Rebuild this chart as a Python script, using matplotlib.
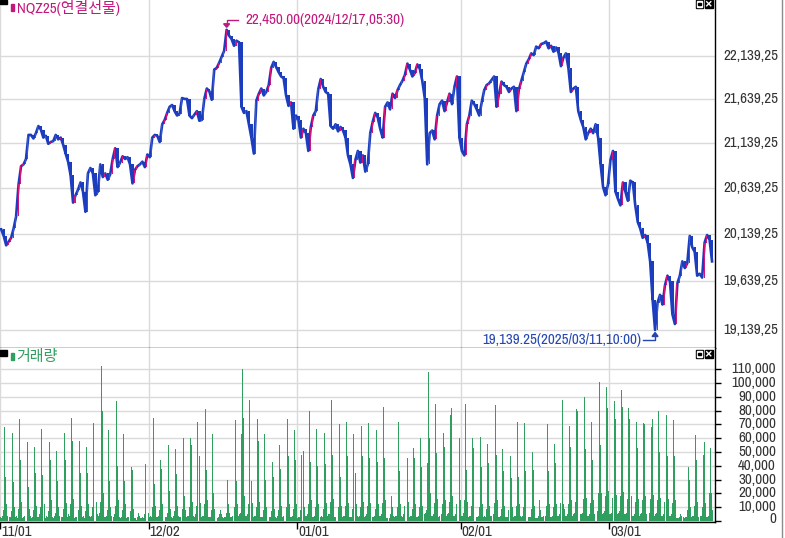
import numpy as np
import matplotlib
matplotlib.use('Agg')
import matplotlib.pyplot as plt
from matplotlib import font_manager
from matplotlib.patches import Rectangle, Polygon
from matplotlib.ticker import NullLocator

# ---- data ----
title = 'NQZ25(연결선물)'
vol_title = '거래량'
month_labels = ['11/01', '12/02', '01/01', '02/01', '03/01']
month_days = [0, 20, 40, 62, 82]
price_ticks = [19139.25, 19639.25, 20139.25, 20639.25, 21139.25, 21639.25, 22139.25]
vol_ticks = [0, 10000, 20000, 30000, 40000, 50000, 60000, 70000, 80000, 90000, 100000, 110000]
high_label = '22,450.00(2024/12/17,05:30)'
low_label = '19,139.25(2025/03/11,10:00)'

# closes, 3 per trading day
closes = [
    [20190, 20120, 20020], [20060, 20100, 20200], [20330, 20680, 20880], [20900, 20960, 21230],
    [21230, 21190, 21250], [21330, 21290, 21200], [21220, 21130, 21150], [21160, 21230, 21180],
    [21200, 21120, 21020], [20930, 20780, 20480], [20560, 20620, 20700], [20600, 20380, 20800],
    [20860, 20800, 20560], [20600, 20900, 20760], [20800, 20730, 20790], [20960, 21080, 20870],
    [20920, 20990, 20960], [20980, 20900, 20690], [20840, 20880, 20900], [20930, 20870, 21010],
    [20980, 21200, 21230], [21220, 21150, 21350], [21400, 21480, 21550], [21570, 21500, 21450],
    [21470, 21650, 21640], [21640, 21450, 21420], [21460, 21500, 21390], [21400, 21640, 21760],
    [21730, 21630, 21980], [22000, 22060, 22130], [22200, 22450, 22380], [22340, 22260, 22320],
    [22300, 21550, 21480], [21500, 21350, 21200], [21020, 21620, 21700], [21760, 21680, 21720],
    [21800, 22000, 22070], [22010, 21950, 21900], [21880, 21680, 21560], [21600, 21300, 21450],
    [21400, 21200, 21300], [21250, 21050, 21320], [21450, 21500, 21750], [21870, 21780, 21720],
    [21700, 21330, 21300], [21350, 21270, 21320], [21280, 21200, 21000], [20900, 20750, 20950],
    [21050, 20920, 21000], [20820, 20900, 21250], [21380, 21480, 21430], [21300, 21200, 21550],
    [21600, 21520, 21700], [21650, 21740, 21800], [21850, 21920, 22050], [21980, 21900, 21940],
    [22040, 21990, 21850], [21650, 20900, 21250], [21280, 21180, 21450], [21580, 21620, 21500],
    [21600, 21700, 21580], [21780, 21900, 21200], [21050, 21000, 21350], [21450, 21620, 21580],
    [21520, 21450, 21600], [21740, 21800, 21820], [21860, 21900, 21550], [21700, 21840, 21800],
    [21780, 21720, 21760], [21780, 21500, 21750], [21850, 21950, 22050], [22100, 22170, 22150],
    [22250, 22230, 22280], [22290, 22310, 22230], [22260, 22190, 22240], [22180, 22020, 22120],
    [22170, 22000, 21720], [21760, 21780, 21500], [21400, 21320, 21180], [21250, 21300, 21250],
    [21350, 21200, 20900], [20650, 20560, 20680], [20950, 21050, 20600], [20520, 20450, 20700],
    [20600, 20500, 20720], [20700, 20450, 20270], [20200, 20100, 20130], [20050, 19850, 19450],
    [19139.25, 19420, 19500], [19400, 19600, 19700], [19640, 19300, 19200], [19620, 19700, 19850],
    [19780, 19830, 20120], [20000, 19950, 19700], [19720, 19680, 20050], [20130, 20080, 19850],
]

# volume in thousands, 7 slots per trading day
volumes = [
    [3, 2, 4, 8, 68, 32, 12], [4, 3, 3, 7, 64, 28, 10], [3, 4, 2, 9, 74, 44, 14], [2, 3, 4, 6, 57, 25, 9],
    [4, 2, 3, 8, 54, 35, 11], [3, 3, 5, 10, 67, 33, 12], [2, 4, 3, 7, 57, 44, 15], [3, 2, 4, 6, 51, 29, 10],
    [4, 3, 3, 9, 64, 44, 13], [3, 5, 4, 12, 75, 58, 16], [2, 3, 3, 8, 58, 35, 11], [3, 4, 2, 7, 54, 35, 12],
    [4, 3, 4, 10, 71, 47, 14], [5, 4, 6, 14, 112, 80, 20], [3, 3, 4, 8, 66, 29, 10], [4, 3, 5, 11, 87, 40, 15],
    [3, 2, 3, 8, 63, 29, 12], [2, 3, 3, 7, 39, 37, 9], [2, 2, 1, 3, 6, 4, 2], [2, 3, 2, 5, 41, 12, 6],
    [3, 4, 3, 10, 75, 27, 11], [3, 3, 4, 8, 44, 38, 12], [2, 3, 3, 6, 55, 22, 9], [3, 2, 4, 7, 52, 34, 11],
    [4, 3, 3, 9, 60, 18, 8], [3, 4, 4, 10, 60, 55, 14], [4, 3, 5, 11, 72, 47, 13], [3, 4, 4, 12, 81, 37, 15],
    [3, 3, 3, 8, 63, 20, 9], [2, 2, 3, 5, 8, 5, 3], [2, 3, 3, 6, 30, 12, 6], [3, 3, 4, 10, 73, 29, 12],
    [4, 5, 6, 63, 110, 75, 18], [4, 4, 5, 12, 88, 29, 13], [3, 4, 4, 10, 74, 58, 14], [3, 3, 3, 8, 63, 30, 10],
    [2, 3, 3, 7, 43, 32, 9], [3, 2, 4, 8, 55, 38, 11], [3, 4, 3, 10, 74, 47, 12], [3, 3, 4, 9, 66, 44, 12],
    [2, 3, 3, 8, 48, 51, 10], [4, 4, 5, 12, 80, 43, 15], [3, 3, 4, 10, 67, 40, 12], [3, 4, 3, 9, 64, 41, 13],
    [4, 5, 5, 14, 88, 48, 16], [3, 3, 4, 10, 70, 32, 11], [3, 4, 4, 11, 72, 47, 13], [3, 3, 3, 9, 63, 35, 12],
    [4, 3, 4, 10, 69, 47, 14], [3, 4, 5, 11, 71, 46, 13], [3, 3, 4, 9, 66, 43, 12], [4, 4, 5, 13, 83, 46, 15],
    [2, 2, 2, 5, 18, 10, 4], [3, 4, 4, 10, 72, 36, 12], [4, 3, 5, 11, 75, 46, 14], [3, 4, 4, 9, 53, 46, 12],
    [3, 3, 4, 10, 60, 39, 11], [5, 6, 8, 42, 108, 60, 20], [4, 4, 5, 13, 85, 49, 16], [3, 4, 5, 12, 64, 54, 15],
    [4, 5, 6, 14, 77, 82, 18], [4, 4, 5, 12, 60, 60, 15], [4, 4, 6, 15, 85, 37, 14], [3, 4, 4, 11, 60, 53, 13],
    [3, 3, 4, 10, 61, 39, 12], [3, 4, 3, 9, 56, 42, 11], [4, 4, 5, 13, 84, 48, 15], [3, 3, 4, 9, 52, 36, 11],
    [3, 3, 3, 8, 47, 31, 10], [3, 4, 4, 11, 72, 32, 12], [4, 3, 4, 10, 71, 36, 12], [3, 3, 3, 9, 50, 37, 11],
    [2, 2, 2, 4, 15, 8, 3], [3, 4, 4, 11, 70, 36, 12], [3, 3, 4, 10, 56, 42, 12], [4, 4, 5, 13, 88, 12, 9],
    [4, 4, 5, 12, 69, 54, 15], [4, 5, 6, 14, 81, 80, 18], [5, 5, 6, 16, 90, 52, 17], [4, 4, 5, 13, 72, 44, 15],
    [5, 6, 7, 20, 101, 55, 20], [5, 6, 7, 18, 97, 82, 22], [5, 5, 6, 17, 87, 74, 19], [5, 6, 7, 18, 95, 83, 21],
    [5, 5, 6, 16, 82, 74, 18], [4, 4, 5, 14, 72, 53, 16], [4, 5, 6, 15, 71, 70, 18], [5, 5, 6, 16, 68, 74, 19],
    [4, 5, 6, 15, 80, 50, 17], [4, 4, 5, 14, 77, 47, 16], [4, 4, 5, 13, 73, 47, 15], [2, 2, 2, 3, 5, 4, 3],
    [2, 3, 3, 8, 39, 30, 10], [3, 4, 4, 11, 62, 44, 14], [3, 4, 4, 10, 48, 57, 13], [3, 3, 4, 20, 53, 20, 8],
]

# ---- style ----
UP = '#D2157E'
DOWN = '#1C3EBE'
GREEN = '#2F9E5F'
MAG_TXT = '#C2187D'
BLUE_TXT = '#2346B2'
GRID = '#dadada'
LBL = '#333333'

names = {f.name for f in font_manager.fontManager.ttflist}
base, fs = 'Liberation Sans', 9
for nm, size in [('Liberation Sans Narrow', 10), ('Archivo Narrow', 10.8), ('Barlow Semi Condensed', 10)]:
    if nm in names:
        base, fs = nm, size
        break
plt.rcParams['font.family'] = [base, 'Noto Sans CJK KR', 'DejaVu Sans']

W, H = 785, 538
DAY_PX = 7.43
fig = plt.figure(figsize=(W / 100, H / 100), dpi=100)
ax_p = fig.add_axes([0, 1 - 347.5 / H, 715 / W, 347.5 / H])
ax_v = fig.add_axes([0, 1 - 522 / H, 715 / W, (522 - 348) / H])

n_days = len(closes)
c = np.array(closes, float).ravel()
x_p = np.repeat(np.arange(n_days), 3) + np.tile((np.arange(3) + 0.5) / 3, n_days)
o = np.r_[c[0], c[:-1]]
lo = np.minimum(o, c)
hi = np.maximum(np.maximum(o, c), lo * 1.0007)
up = c > o

ax_p.set_yscale('log')
ax_p.plot(x_p, c, color=DOWN, lw=1.9, zorder=2)
ax_p.bar(x_p[~up], hi[~up] - lo[~up], bottom=lo[~up], width=0.32, color=DOWN, linewidth=0,
         antialiased=False, zorder=2.5)
ax_p.bar(x_p[up] - 0.07, hi[up] - lo[up], bottom=lo[up], width=0.14, color=UP, linewidth=0,
         antialiased=False, zorder=3)
ax_p.set_ylim(18962, 22808)
ax_p.set_xlim(0, 715 / DAY_PX)
ax_p.set_yticks(price_ticks)
ax_p.yaxis.set_minor_locator(NullLocator())
ax_p.set_xticks(month_days)
ax_p.tick_params(axis='both', length=0, labelleft=False, labelbottom=False)
ax_p.grid(True, color=GRID, lw=1)
ax_p.set_axisbelow(True)
for s in ['top', 'left']:
    ax_p.spines[s].set_visible(False)
for s in ['right', 'bottom']:
    ax_p.spines[s].set_color('black')
    ax_p.spines[s].set_linewidth(1)
for v in price_ticks:
    ax_p.text(778 / 715, v, f'{v:,.2f}'.replace('.', ','), transform=ax_p.get_yaxis_transform(),
              ha='right', va='center', fontsize=fs, color=LBL)

vol = np.array(volumes, float).ravel() * 1000
x_v = np.repeat(np.arange(n_days), 7) + np.tile((np.arange(7) + 0.5) / 7, n_days)
ax_v.bar(x_v, vol, width=0.92 / 7, color=GREEN, linewidth=0, antialiased=False)
ax_v.set_ylim(-700, 125400)
ax_v.set_xlim(0, 715 / DAY_PX)
ax_v.yaxis.tick_right()
ax_v.set_yticks(vol_ticks)
ax_v.tick_params(axis='y', length=4, width=1, color='black', labelright=False, direction='out')
ax_v.set_xticks(month_days)
ax_v.tick_params(axis='x', length=5, width=1, color='black', labelbottom=False, direction='out')
ax_v.grid(True, color=GRID, lw=1)
ax_v.set_axisbelow(True)
for s in ['top', 'left']:
    ax_v.spines[s].set_visible(False)
for s in ['right', 'bottom']:
    ax_v.spines[s].set_color('black')
    ax_v.spines[s].set_linewidth(1)
for v in vol_ticks:
    yy = v if v else 1300
    ax_v.text(776 / 715, yy, f'{v:,}', transform=ax_v.get_yaxis_transform(),
              ha='right', va='center', fontsize=fs, color=LBL)

# ---- overlay: labels, icons, annotations ----
ov = fig.add_axes([0, 0, 1, 1], zorder=10)
ov.set_xlim(0, W)
ov.set_ylim(H, 0)
ov.axis('off')
ov.patch.set_alpha(0)

ov.plot([782, 782], [0, H], color='#8c8c8c', lw=1)

ov.add_patch(Rectangle((0, 0), 7, 3.5, color='black'))
ov.add_patch(Rectangle((11, 4), 2.5, 7, color=MAG_TXT))
ov.text(16.5, 7.5, title, va='center', ha='left', fontsize=fs, color=MAG_TXT)
ov.add_patch(Rectangle((0, 350), 7, 6, color='black'))
ov.add_patch(Rectangle((11, 353), 2.5, 7, color=GREEN))
ov.text(16.5, 357, vol_title, va='center', ha='left', fontsize=fs, color=GREEN)

for y0 in [0, 350]:
    ov.add_patch(Rectangle((695.5, y0), 7.5, 7.5, color='black'))
    ov.add_patch(Rectangle((696.5, y0 + 1), 5.5, 5.5, color='white'))
    ov.add_patch(Rectangle((697.5, y0 + 2.5), 3.5, 2.5, color='black'))
    ov.add_patch(Rectangle((705, y0), 7.5, 7.5, color='black'))
    ov.plot([706.7, 710.8], [y0 + 1.7, y0 + 5.8], color='white', lw=1)
    ov.plot([706.7, 710.8], [y0 + 5.8, y0 + 1.7], color='white', lw=1)

# month labels under the volume panel
for d, lab in zip(month_days, month_labels):
    xd, _ = ax_v.transData.transform((d, 0))
    ov.text(xd + 1, 531, lab, ha='left', va='center', fontsize=fs, color=LBL)


def to_px(ax, x, y):
    dx, dy = ax.transData.transform((x, y))
    return dx, H - dy


i_hi = int(np.argmax(c))
px, py = to_px(ax_p, x_p[i_hi], c[i_hi])
ov.plot([px + 11, px, px], [py - 10, py - 10, py - 4], color=MAG_TXT, lw=1)
ov.add_patch(Polygon([[px - 3, py - 6], [px + 3, py - 6], [px, py - 2.5]], color=MAG_TXT))
ov.text(px + 19, py - 10, high_label, ha='left', va='center', fontsize=fs, color=MAG_TXT)

i_lo = int(np.argmin(c))
px, py = to_px(ax_p, x_p[i_lo], c[i_lo])
ov.plot([px - 12, px, px], [py + 10.5, py + 10.5, py + 4], color=BLUE_TXT, lw=1)
ov.add_patch(Polygon([[px - 3, py + 6.5], [px + 3, py + 6.5], [px, py + 2.5]], color=BLUE_TXT))
ov.text(px - 14, py + 10.5, low_label, ha='right', va='center', fontsize=fs, color=BLUE_TXT)

fig.savefig('out.png', dpi=100)
